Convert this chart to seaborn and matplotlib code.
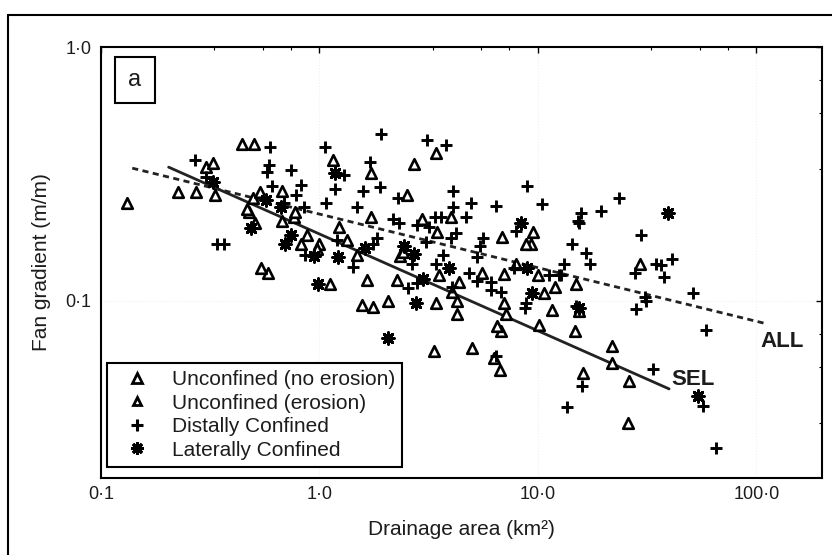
import matplotlib
matplotlib.use("Agg")
import matplotlib.pyplot as plt
from matplotlib.lines import Line2D
from matplotlib.patches import Rectangle
from matplotlib.ticker import LogLocator, NullFormatter, FixedLocator
import seaborn as sns
import pandas as pd

# ---------------- data ----------------
unconf_noero_area = [0.132, 0.271, 0.304, 0.444, 0.677, 0.499, 0.478, 0.761, 0.509, 0.827,
                     1.0, 1.34, 0.584, 1.15, 2.72, 2.52, 2.96, 1.48, 1.57, 2.05,
                     2.35, 3.47, 4.37, 4.28, 4.28, 7.02, 7.02, 9.53, 9.33, 10.0,
                     12.0, 15.0, 15.5, 21.9, 16.1, 26.0, 6.8, 3.36, 6.32]
unconf_noero_grad = [0.242, 0.267, 0.336, 0.414, 0.270, 0.253, 0.223, 0.213, 0.203, 0.168,
                     0.168, 0.173, 0.129, 0.357, 0.345, 0.260, 0.209, 0.151, 0.0964, 0.100,
                     0.150, 0.187, 0.118, 0.100, 0.089, 0.127, 0.098, 0.187, 0.168, 0.126,
                     0.113, 0.116, 0.091, 0.066, 0.0519, 0.0329, 0.076, 0.0634, 0.0595]

unconf_ero_area = [0.224, 0.334, 0.327, 0.504, 0.537, 0.468, 0.777, 0.677, 1.23, 0.88,
                   0.97, 0.54, 1.12, 3.43, 1.73, 1.73, 4.02, 1.66, 1.75, 2.27,
                   2.42, 3.54, 4.06, 3.43, 5.57, 6.88, 7.17, 8.85, 7.97, 10.7,
                   11.6, 29.4, 14.8, 21.9, 26.2, 6.52, 10.15, 4.97, 6.73]
unconf_ero_grad = [0.267, 0.262, 0.348, 0.414, 0.267, 0.229, 0.223, 0.207, 0.196, 0.181,
                   0.160, 0.135, 0.116, 0.381, 0.318, 0.213, 0.213, 0.121, 0.0947, 0.121,
                   0.156, 0.126, 0.108, 0.098, 0.128, 0.179, 0.089, 0.168, 0.140, 0.107,
                   0.092, 0.139, 0.076, 0.0568, 0.0483, 0.0796, 0.0803, 0.0652, 0.0534]

distal_area = [0.268, 0.301, 0.596, 0.59, 0.578, 0.745, 0.609, 0.827, 0.785, 0.691,
               0.854, 1.077, 0.863, 1.21, 0.338, 0.367, 1.065, 1.30, 1.18, 1.92,
               3.12, 3.81, 1.71, 1.59, 1.90, 2.30, 1.49, 2.18, 2.32, 3.39,
               3.61, 4.10, 4.10, 4.96, 4.71, 6.45, 8.95, 10.5, 1.84, 1.75,
               1.43, 2.64, 2.81, 3.19, 3.09, 4.02, 4.24, 3.69, 3.43, 2.81,
               2.55, 4.06, 4.86, 5.28, 5.63, 5.46, 5.28, 6.13, 6.13, 6.80,
               7.97, 7.80, 8.85, 11.3, 12.5, 13.2, 14.4, 15.3, 15.0, 8.76,
               23.5, 19.5, 15.8, 15.5, 29.7, 16.7, 17.4, 27.9, 34.8, 36.7,
               41.2, 37.8, 31.0, 31.3, 28.2, 51.4, 58.9, 16.0, 33.7, 57.0,
               13.6, 65.4, 12.8, 6.45]
distal_grad = [0.357, 0.306, 0.402, 0.342, 0.321, 0.327, 0.282, 0.285, 0.260, 0.242,
               0.233, 0.242, 0.151, 0.173, 0.168, 0.168, 0.402, 0.312, 0.275, 0.453,
               0.429, 0.410, 0.351, 0.270, 0.280, 0.255, 0.233, 0.209, 0.203, 0.213,
               0.213, 0.270, 0.235, 0.242, 0.213, 0.237, 0.282, 0.240, 0.176, 0.168,
               0.136, 0.140, 0.198, 0.195, 0.171, 0.176, 0.185, 0.151, 0.140, 0.117,
               0.112, 0.113, 0.128, 0.120, 0.177, 0.165, 0.148, 0.118, 0.110, 0.108,
               0.189, 0.135, 0.098, 0.126, 0.126, 0.140, 0.167, 0.207, 0.0955, 0.0938,
               0.253, 0.225, 0.221, 0.203, 0.181, 0.154, 0.140, 0.128, 0.140, 0.138,
               0.146, 0.124, 0.103, 0.100, 0.093, 0.107, 0.0768, 0.0461, 0.0538, 0.0384,
               0.0381, 0.0263, 0.126, 0.0606]

lateral_area = [0.324, 0.572, 0.670, 0.488, 0.745, 0.698, 0.949, 1.22, 0.99, 1.18,
                1.62, 2.45, 2.72, 3.93, 2.99, 2.78, 8.40, 8.95, 9.43, 39.5,
                15.5, 54.1, 2.05]
lateral_grad = [0.293, 0.249, 0.233, 0.194, 0.181, 0.168, 0.150, 0.148, 0.116, 0.318,
                0.162, 0.165, 0.153, 0.134, 0.122, 0.098, 0.203, 0.135, 0.107, 0.221,
                0.094, 0.0421, 0.0715]

# regression lines (end points)
all_area = [0.139, 112.0]
all_grad = [0.333, 0.081]
sel_area = [0.204, 39.9]
sel_grad = [0.336, 0.0449]

series_labels = ["Unconfined (no erosion)", "Unconfined (erosion)",
                 "Distally Confined", "Laterally Confined"]
x_ticks = [0.1, 1.0, 10.0, 100.0]
x_ticklabels = ["0·1", "1·0", "10·0", "100·0"]
y_ticks = [0.1, 1.0]
y_ticklabels = ["0·1", "1·0"]

# ---------------- figure ----------------
sns.set_theme(style="white")
plt.rcParams["font.family"] = ["Liberation Sans", "DejaVu Sans"]
TXT = "#1c1c1c"

fig = plt.figure(figsize=(8.32, 5.55), dpi=100)
fig.patch.set_facecolor("white")
ax = fig.add_axes([101 / 832, 1 - 478 / 555, 721 / 832, 431 / 555])
ax.set_facecolor("white")

ax.set_xscale("log")
ax.set_yscale("log")
ax.set_xlim(0.1, 200)
ax.set_ylim(0.02, 1.0)

ax.grid(True, which="major", color="#f1f1f1", lw=0.8, ls=":")

df_ne = pd.DataFrame({"area": unconf_noero_area, "grad": unconf_noero_grad})
df_e = pd.DataFrame({"area": unconf_ero_area, "grad": unconf_ero_grad})
df_d = pd.DataFrame({"area": distal_area, "grad": distal_grad})
df_l = pd.DataFrame({"area": lateral_area, "grad": lateral_grad})

sns.scatterplot(data=df_ne, x="area", y="grad", ax=ax, marker="^", s=58,
                facecolor="white", edgecolor="black", linewidth=1.9, zorder=3)
sns.scatterplot(data=df_e, x="area", y="grad", ax=ax, marker="^", s=58,
                facecolor="white", edgecolor="black", linewidth=1.9, zorder=3)
sns.scatterplot(data=df_d, x="area", y="grad", ax=ax, marker="+", s=70,
                color="black", linewidth=2.1, zorder=3)
sns.scatterplot(data=df_l, x="area", y="grad", ax=ax, marker=(8, 2, 0), s=70,
                color="black", linewidth=2.1, zorder=3)

sns.lineplot(x=all_area, y=all_grad, ax=ax, color="#222222", lw=2.0,
             linestyle=(0, (2.2, 1.6)), zorder=2)
sns.lineplot(x=sel_area, y=sel_grad, ax=ax, color="#222222", lw=2.0, zorder=2)

ax.text(105, 0.069, "ALL", fontsize=16, fontweight="bold", ha="left", va="center", color=TXT)
ax.text(40.8, 0.0487, "SEL", fontsize=16, fontweight="bold", ha="left", va="center", color=TXT)

# ticks
ax.xaxis.set_major_locator(FixedLocator(x_ticks))
ax.set_xticklabels(x_ticklabels)
ax.yaxis.set_major_locator(FixedLocator(y_ticks))
ax.set_yticklabels(y_ticklabels)
for axis in (ax.xaxis, ax.yaxis):
    axis.set_minor_locator(LogLocator(base=10, subs=[3.3, 5.5, 7.4]))
    axis.set_minor_formatter(NullFormatter())
ax.tick_params(which="major", direction="in", length=4, width=1.0, color="black",
               labelsize=13, labelcolor=TXT, top=True, right=True)
ax.tick_params(axis="x", which="major", pad=6)
ax.tick_params(axis="y", which="major", pad=7)
ax.tick_params(which="minor", direction="in", length=2.5, width=0.8, color="black",
               top=True, right=True)

for sp in ax.spines.values():
    sp.set_color("black")
    sp.set_linewidth(1.5)

ax.set_xlabel("Drainage area (km²)", fontsize=15, color=TXT, labelpad=12)
ax.set_ylabel("Fan gradient (m/m)", fontsize=15, color=TXT, labelpad=10)

# panel letter box
ax.add_patch(Rectangle((0.0194, 0.870), 0.0555, 0.107, transform=ax.transAxes,
                       facecolor="white", edgecolor="black", lw=1.5, zorder=5))
ax.text(0.0471, 0.9235, "a", transform=ax.transAxes, fontsize=17, ha="center",
        va="center", color=TXT, zorder=6)

# legend
handles = [
    Line2D([], [], ls="none", marker="^", ms=7.5, mfc="white", mec="black", mew=2.0),
    Line2D([], [], ls="none", marker="^", ms=6, mfc="white", mec="black", mew=2.0),
    Line2D([], [], ls="none", marker="+", ms=9, color="black", mew=2.2),
    Line2D([], [], ls="none", marker=(8, 2, 0), ms=9, color="black", mew=2.2),
]
leg = ax.legend(handles, series_labels, loc="lower left", bbox_to_anchor=(0.0083, 0.0255),
                borderaxespad=0, frameon=True, fancybox=False, edgecolor="black",
                framealpha=1, fontsize=15, handlelength=2.2, handletextpad=0.55,
                labelspacing=0.22, borderpad=0.35)
leg.get_frame().set_linewidth(1.5)
for t in leg.get_texts():
    t.set_color(TXT)

# outer frame of the figure panel
fig.add_artist(Line2D([8 / 832, 8 / 832], [0, 1 - 15 / 555], transform=fig.transFigure,
                      color="black", lw=1.5))
fig.add_artist(Line2D([8 / 832, 1], [1 - 15 / 555, 1 - 15 / 555], transform=fig.transFigure,
                      color="black", lw=1.5))

fig.savefig("out.png", dpi=100, facecolor="white")
